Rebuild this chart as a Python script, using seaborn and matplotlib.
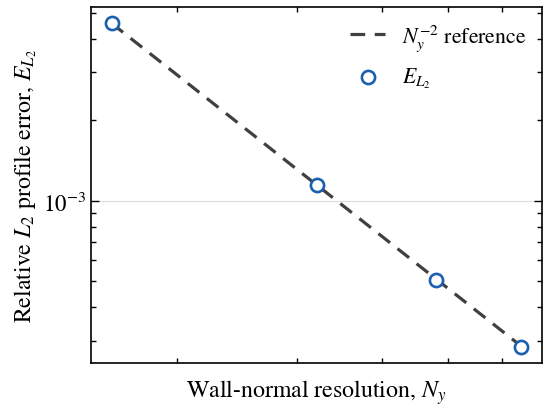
import numpy as np
import pandas as pd
import matplotlib
matplotlib.use("Agg")
import matplotlib.pyplot as plt
import matplotlib.ticker as mticker
import seaborn as sns

# Data
Ny = [16, 32, 48, 64]
E_L2 = [4.58e-3, 1.147e-3, 5.05e-4, 2.85e-4]
ref_coeff = 1.172  # C in C * Ny^-2

sns.set_theme(style="ticks")
plt.rcParams['font.family'] = ['STIXGeneral', 'Liberation Serif', 'DejaVu Serif']
plt.rcParams['mathtext.fontset'] = 'stix'
plt.rcParams['axes.edgecolor'] = 'black'
plt.rcParams['axes.linewidth'] = 1.2
plt.rcParams['xtick.color'] = 'black'
plt.rcParams['ytick.color'] = 'black'
plt.rcParams['text.color'] = 'black'
plt.rcParams['axes.labelcolor'] = 'black'

df = pd.DataFrame({"Ny": Ny, "E": E_L2})
df["ref"] = ref_coeff * df["Ny"].astype(float) ** -2

fig = plt.figure(figsize=(5.5, 4.1), dpi=100)
ax = fig.add_axes([91/550, 46/410, 451/550, 356/410])

sns.lineplot(data=df, x="Ny", y="ref", ax=ax, color="#404040", lw=2.3,
             label=r"$N_y^{-2}$ reference", zorder=2)
ax.lines[0].set_dashes((4.6, 3.0))
sns.scatterplot(data=df, x="Ny", y="E", ax=ax, marker="o", s=90,
                facecolor="white", edgecolor="#1a5fb0", linewidth=1.9,
                label=r"$E_{L_2}$", zorder=3)

ax.set_xscale("log")
ax.set_yscale("log")

ax.xaxis.set_minor_formatter(mticker.NullFormatter())
ax.yaxis.set_minor_formatter(mticker.NullFormatter())

ax.tick_params(which="both", direction="in", top=True, right=True, labelsize=16.5)
ax.tick_params(which="major", length=6, width=1.0)
ax.tick_params(which="minor", length=3.5, width=1.0)

ax.grid(True, which="major", axis="y", color="#dddddd", lw=0.8, zorder=0)
ax.set_axisbelow(True)

ax.set_xlabel(r"Wall-normal resolution, $N_y$", fontsize=17.2, labelpad=7)
ax.set_ylabel(r"Relative $L_2$ profile error, $E_{L_2}$", fontsize=17.2, labelpad=3)

leg = ax.legend(loc="upper right", frameon=False, fontsize=15.7, handlelength=1.6,
                borderaxespad=0.3, labelspacing=0.6, handletextpad=0.8)

fig.savefig("out.png", dpi=100)
